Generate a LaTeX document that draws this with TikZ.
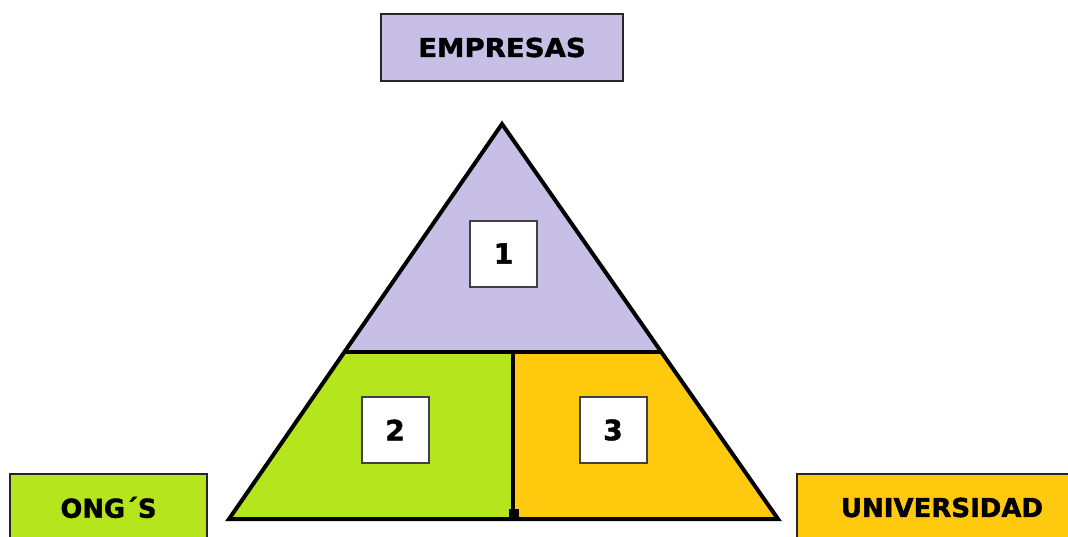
\documentclass[tikz,border=0pt]{standalone}
\usepackage{fontspec}
\setmainfont{DejaVu Sans}
\newfontfamily\heavy{DejaVu Sans}[BoldFeatures={FakeBold=1.6}]
\definecolor{lav}{RGB}{200,191,231}
\definecolor{lime}{RGB}{181,230,29}
\definecolor{gold}{RGB}{255,201,14}
\begin{document}
\begin{tikzpicture}[x=1pt,y=-1pt,
  lbl/.style={draw=black!85, line width=2pt, inner sep=0pt, font=\heavy\bfseries\fontsize{26}{26}\selectfont},
  numbox/.style={draw=black!75, line width=2pt, fill=white, minimum width=67pt, minimum height=66pt, inner sep=0pt, font=\heavy\bfseries\fontsize{28}{28}\selectfont},
  edge/.style={line width=4pt, line join=miter}]
\useasboundingbox (0,0) rectangle (1068,536);
\clip (0,0) rectangle (1068,536);
\fill[white] (0,0) rectangle (1068,536);
% triangle coordinates
\coordinate (apex) at (502,124);
\coordinate (bl) at (229,519);
\coordinate (br) at (778,519);
\coordinate (ml) at (344.4,352);
\coordinate (mr) at (661.3,352);
\coordinate (mt) at (513,352);
\coordinate (mb) at (513,519);
% fills
\fill[lav] (apex) -- (mr) -- (ml) -- cycle;
\fill[lime] (ml) -- (mt) -- (mb) -- (bl) -- cycle;
\fill[gold] (mt) -- (mr) -- (br) -- (mb) -- cycle;
% lines
\draw[edge] (apex) -- (br) -- (bl) -- cycle;
\draw[edge] (ml) -- (mr);
\draw[edge] (mt) -- (mb);
\fill[black] (508.5,509) rectangle (518.5,520);
% number boxes
\node[numbox] (n1) at (503.5,253.5) {1};
\node[numbox] (n2) at (395,430) {2};
\node[numbox] (n3) at (613,430) {3};
% labels
\node[lbl, fill=lav, minimum width=242pt, minimum height=67pt] (emp) at (502,47.5) {\scalebox{1.06}[1]{EMPRESAS}};
\node[lbl, fill=lime, minimum width=197pt, minimum height=67pt] (ong) at (108.5,507.5) {\scalebox{0.99}[1]{ONG´S}};
\node[lbl, fill=gold, minimum width=290pt, minimum height=67pt] (uni) at (942,507.5) {UNIVERSIDAD};
\end{tikzpicture}
\end{document}
